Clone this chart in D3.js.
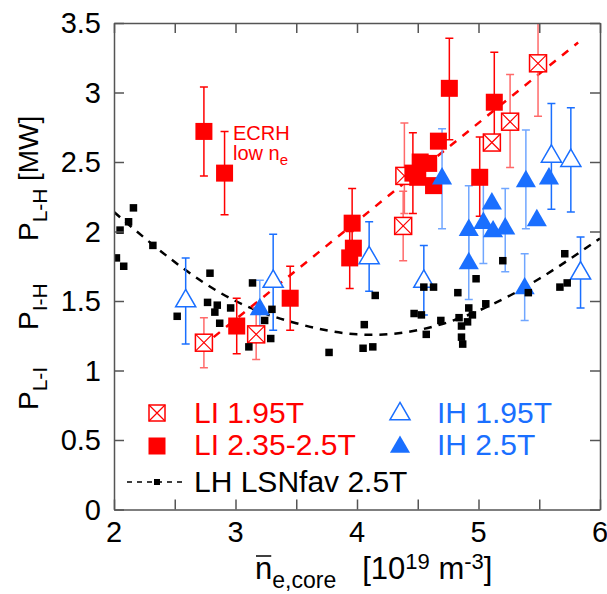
<!DOCTYPE html>
<html>
<head>
<meta charset="utf-8">
<script src="https://cdn.jsdelivr.net/npm/d3@7"></script>
<style>
  body { margin: 0; background: #fff; }
  svg text { font-family: "Liberation Sans", Arial, Helvetica, sans-serif; }
</style>
</head>
<body>
<svg id="chart" width="607" height="594"></svg>
<script>
// LI 2.35-2.5T, filled red squares: [n, P, errLow, errHigh]
const li25 = [
  [2.74, 2.72, 2.40, 3.04], [2.91, 2.42, 2.12, 2.72], [3.01, 1.32, 1.12, 1.52],
  [3.45, 1.52, 1.29, 1.75], [3.96, 2.06, 1.81, 2.31], [3.97, 1.88, null, null],
  [3.94, 1.81, 1.59, 2.00], [4.46, 2.42, 2.13, 2.71], [4.50, 2.39, null, null],
  [4.52, 2.50, null, null], [4.59, 2.49, null, null], [4.63, 2.33, null, null],
  [4.67, 2.65, null, null], [4.76, 3.03, 2.66, 3.39], [5.01, 2.39, 2.11, 2.68],
  [5.13, 2.93, 2.62, 3.29]
];
// LI 1.95T, crossed boxes
const li195 = [
  [2.74, 1.20, 1.02, 1.38], [3.17, 1.26, 1.08, 1.45], [4.39, 2.40, 2.13, 2.78],
  [4.38, 2.04, 1.79, 2.29], [5.11, 2.64, null, null], [5.26, 2.79, 2.46, 3.13],
  [5.49, 3.21, 2.83, 3.60]
];
// IH 1.95T, open triangles
const ih195 = [
  [2.59, 1.50, 1.19, 1.81], [3.31, 1.64, 1.29, 1.98], [4.10, 1.81, 1.57, 2.07],
  [4.55, 1.64, 1.40, 1.90], [5.60, 2.54, 2.16, 2.92], [5.76, 2.51, 2.14, 2.89],
  [5.84, 1.70, 1.45, 1.96]
];
// IH 2.5T, filled triangles
const ih25 = [
  [3.20, 1.44, 1.25, 1.65], [4.70, 2.38, 2.02, 2.74], [4.92, 2.01, 1.77, 2.33],
  [4.92, 1.77, 1.51, 2.03], [5.04, 2.06, 1.77, 2.35], [5.11, 2.20, null, null],
  [5.12, 2.00, null, null], [5.22, 2.02, 1.71, 2.31], [5.39, 2.36, 2.02, 2.73],
  [5.58, 2.38, null, null], [5.48, 2.08, null, null], [5.38, 1.59, 1.36, 1.84]
];
// LH LSNfav 2.5T, small black squares
const lh = [
  [2.02, 1.81], [2.05, 2.01], [2.08, 1.75], [2.12, 2.07], [2.16, 2.17], [2.32, 1.90],
  [2.52, 1.39], [2.77, 1.49], [2.79, 1.70], [2.83, 1.42], [2.85, 1.47], [2.87, 1.34],
  [2.96, 1.45], [3.11, 1.17], [3.14, 1.63], [3.24, 1.36], [3.29, 1.23], [3.30, 1.44],
  [3.77, 1.13], [4.05, 1.16], [4.06, 1.33], [4.13, 1.17], [4.15, 1.54], [4.47, 1.41],
  [4.53, 1.40], [4.55, 1.60], [4.57, 1.26], [4.63, 1.60], [4.69, 1.36], [4.83, 1.56],
  [4.84, 1.38], [4.86, 1.32], [4.86, 1.24], [4.87, 1.19], [4.91, 1.35], [4.92, 1.45],
  [4.95, 1.40], [4.98, 1.66], [5.06, 1.48], [5.20, 1.79], [5.41, 1.56], [5.67, 1.60],
  [5.71, 1.84], [5.73, 1.63]
];
// dashed fit curves
const lhFit = [[2.0, 2.14], [2.5, 1.78], [3.0, 1.50], [3.5, 1.34], [4.0, 1.26],
               [4.5, 1.29], [5.0, 1.43], [5.5, 1.66], [6.0, 1.95]];
const liFit = [[2.82, 1.24], [5.82, 3.36]];

const xTicks = [2, 2.5, 3, 3.5, 4, 4.5, 5, 5.5, 6];
const xLabels = [2, 3, 4, 5, 6];
const yTicks = [0, 0.5, 1, 1.5, 2, 2.5, 3, 3.5];

const RED = "#ff0000", RED_LT = "#ff6a6a";
const BLUE = "#1a6fff", BLUE_LT = "#70a6ff";

const svg = d3.select("#chart");
const x = d3.scaleLinear().domain([2, 6]).range([114, 600]);
const y = d3.scaleLinear().domain([0, 3.5]).range([509.5, 23]);

svg.append("clipPath").attr("id", "plot")
  .append("rect").attr("x", 114).attr("y", 23).attr("width", 486).attr("height", 486.5);

const g = svg.append("g").attr("clip-path", "url(#plot)");

// fit lines
g.append("path").datum(lhFit)
  .attr("d", d3.line().x(d => x(d[0])).y(d => y(d[1])).curve(d3.curveNatural))
  .attr("fill", "none").attr("stroke", "#000").attr("stroke-width", 2.5)
  .attr("stroke-dasharray", "8,7");
g.append("path").datum(liFit)
  .attr("d", d3.line().x(d => x(d[0])).y(d => y(d[1])))
  .attr("fill", "none").attr("stroke", RED).attr("stroke-width", 2.5)
  .attr("stroke-dasharray", "8,8");

// error bars
function errBars(data, color) {
  const eb = g.append("g").attr("stroke", color).attr("stroke-width", 1.5);
  data.filter(d => d[2] != null).forEach(d => {
    eb.append("line").attr("x1", x(d[0])).attr("x2", x(d[0]))
      .attr("y1", y(d[2])).attr("y2", y(d[3]));
    [d[2], d[3]].forEach(v => {
      eb.append("line").attr("x1", x(d[0]) - 4).attr("x2", x(d[0]) + 4)
        .attr("y1", y(v)).attr("y2", y(v));
    });
  });
}
errBars(li195, RED_LT);
errBars(li25, RED);
errBars(ih195, BLUE);
errBars(ih25, BLUE_LT);

// marker painters
function crossBox(sel, s) {
  sel.append("rect").attr("x", -s / 2).attr("y", -s / 2).attr("width", s).attr("height", s)
    .attr("fill", "#fff").attr("stroke", RED).attr("stroke-width", 1.5);
  sel.append("path").attr("d", `M${-s / 2},${-s / 2}L${s / 2},${s / 2}M${s / 2},${-s / 2}L${-s / 2},${s / 2}`)
    .attr("stroke", RED).attr("stroke-width", 1.2);
}
function square(sel, s, color) {
  sel.append("rect").attr("x", -s / 2).attr("y", -s / 2).attr("width", s).attr("height", s)
    .attr("fill", color);
}
const tri = d3.symbol().type(d3.symbolTriangle).size(175);

g.selectAll(".cb").data(li195).join("g")
  .attr("transform", d => `translate(${x(d[0])},${y(d[1])})`)
  .each(function () { crossBox(d3.select(this), 17); });

g.selectAll(".sq").data(li25).join("rect")
  .attr("x", d => x(d[0]) - 8.5).attr("y", d => y(d[1]) - 8.5)
  .attr("width", 17).attr("height", 17).attr("fill", RED);

g.selectAll(".ot").data(ih195).join("path")
  .attr("d", tri).attr("transform", d => `translate(${x(d[0])},${y(d[1])})`)
  .attr("fill", "#fff").attr("stroke", BLUE).attr("stroke-width", 1.5);

g.selectAll(".ft").data(ih25).join("path")
  .attr("d", tri).attr("transform", d => `translate(${x(d[0])},${y(d[1])})`)
  .attr("fill", BLUE);

g.selectAll(".lh").data(lh).join("rect")
  .attr("x", d => x(d[0]) - 3.75).attr("y", d => y(d[1]) - 3.75)
  .attr("width", 7.5).attr("height", 7.5).attr("fill", "#000");

// axes (ticks inside, mirrored)
const axisCol = "#555";
const tl = -10;
svg.append("g").attr("transform", "translate(0,509.5)")
  .call(d3.axisBottom(x).tickValues(xTicks).tickSizeInner(tl).tickSizeOuter(0).tickFormat(""));
svg.append("g").attr("transform", "translate(0,23)")
  .call(d3.axisTop(x).tickValues(xTicks).tickSizeInner(tl).tickSizeOuter(0).tickFormat(""));
svg.append("g").attr("transform", "translate(114,0)")
  .call(d3.axisLeft(y).tickValues(yTicks).tickSizeInner(tl).tickSizeOuter(0).tickFormat(""));
svg.append("g").attr("transform", "translate(600,0)")
  .call(d3.axisRight(y).tickValues(yTicks).tickSizeInner(tl).tickSizeOuter(0).tickFormat(""));
svg.selectAll(".domain, .tick line").attr("stroke", axisCol).attr("stroke-width", 1.5);

// tick labels
svg.append("g").selectAll("text").data(xLabels).join("text")
  .attr("x", d => x(d)).attr("y", 542).attr("text-anchor", "middle")
  .attr("font-size", 29).text(d => d);
svg.append("g").selectAll("text").data(yTicks).join("text")
  .attr("x", 101).attr("y", d => y(d) + 10).attr("text-anchor", "end")
  .attr("font-size", 29).text(d => d);

// y axis title: three powers plus unit, read bottom to top
const yTitle = [["P", "L-I", 410], ["P", "I-H", 330], ["P", "L-H", 241]];
yTitle.forEach(p => {
  const t = svg.append("text").attr("transform", `translate(38,${p[2]}) rotate(-90)`)
    .attr("font-size", 28);
  t.append("tspan").text(p[0]);
  t.append("tspan").attr("font-size", 21).attr("dy", 9).text(p[1]);
});
svg.append("text").attr("transform", "translate(38,181) rotate(-90)")
  .attr("font-size", 28).text("[MW]");

// x axis title
const xt = svg.append("text").attr("x", 255).attr("y", 579).attr("font-size", 31);
xt.append("tspan").text("n");
xt.append("tspan").attr("font-size", 23).attr("dy", 9).text("e,core");
xt.append("tspan").attr("dy", -9).attr("dx", 26).text("[10");
xt.append("tspan").attr("font-size", 22).attr("dy", -10).text("19");
xt.append("tspan").attr("dy", 10).text(" m");
xt.append("tspan").attr("font-size", 22).attr("dy", -10).text("-3");
xt.append("tspan").attr("dy", 10).text("]");
const nb = xt.node().getExtentOfChar(0);
svg.append("line").attr("x1", nb.x + 1).attr("x2", nb.x + nb.width - 1)
  .attr("y1", 556).attr("y2", 556).attr("stroke", "#000").attr("stroke-width", 1.5);

// annotation
svg.append("text").attr("x", 233).attr("y", 140).attr("fill", RED).attr("font-size", 20).text("ECRH");
const an = svg.append("text").attr("x", 233).attr("y", 160).attr("fill", RED).attr("font-size", 20);
an.append("tspan").text("low n");
an.append("tspan").attr("font-size", 15).attr("dy", 5).text("e");

// legend
const leg = svg.append("g");
crossBox(leg.append("g").attr("transform", "translate(157,413)"), 16);
square(leg.append("g").attr("transform", "translate(157,446)"), 17, RED);
leg.append("path").attr("d", tri).attr("transform", "translate(400,414)")
  .attr("fill", "#fff").attr("stroke", BLUE).attr("stroke-width", 1.5);
leg.append("path").attr("d", tri).attr("transform", "translate(400,447)").attr("fill", BLUE);
leg.append("line").attr("x1", 127).attr("x2", 186).attr("y1", 482).attr("y2", 482)
  .attr("stroke", "#000").attr("stroke-width", 1.5).attr("stroke-dasharray", "5,5");
square(leg.append("g").attr("transform", "translate(157,482)"), 6, "#000");

const legText = [
  ["LI 1.95T", 194, 423, RED], ["LI 2.35-2.5T", 194, 455, RED],
  ["IH 1.95T", 437, 423, BLUE], ["IH 2.5T", 437, 455, BLUE],
  ["LH LSNfav 2.5T", 194, 492, "#000"]
];
leg.selectAll("text").data(legText).join("text")
  .attr("x", d => d[1]).attr("y", d => d[2]).attr("fill", d => d[3])
  .attr("font-size", 30).text(d => d[0]);
</script>
</body>
</html>
